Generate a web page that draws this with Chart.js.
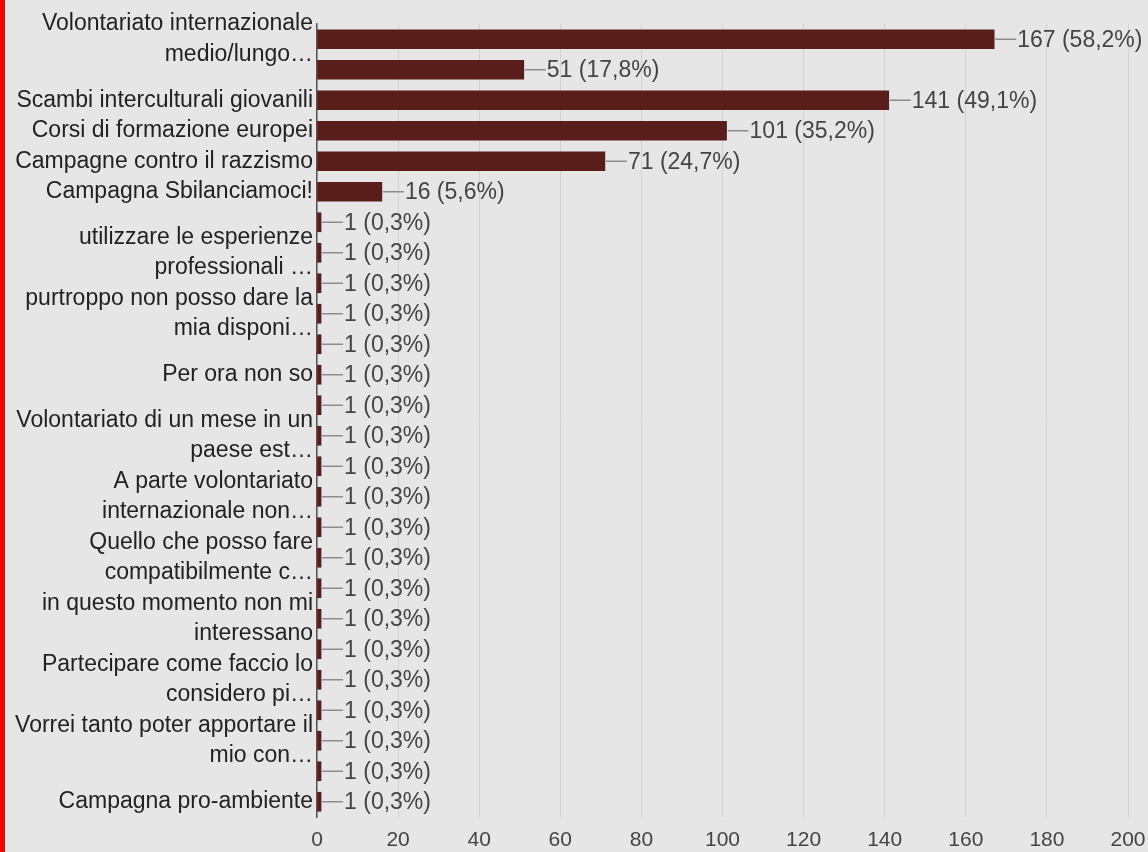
<!DOCTYPE html>
<html lang="it">
  <head>
    <meta charset="UTF-8" />
    <title>Disponibilità attività</title>
    <style>
      html, body { margin: 0; padding: 0; background: #e6e6e6; }
      .chart { position: relative; width: 1148px; height: 852px; }
      .edge { position: absolute; left: 0; top: 0; width: 5px; height: 852px; background: #ff0000; }
    </style>
  </head>
  <body>
    <script src="https://cdn.jsdelivr.net/npm/chart.js"></script>
    <div class="chart">
      <canvas id="chart" width="1148" height="852"></canvas>
      <div class="edge"></div>
    </div>

    <script>
      // categorie (etichette troncate come nel grafico di Google Moduli)
      const categories = [
        ["Volontariato internazionale", "medio/lungo…"],
        "",
        "Scambi interculturali giovanili",
        "Corsi di formazione europei",
        "Campagne contro il razzismo",
        "Campagna Sbilanciamoci!",
        "",
        ["utilizzare le esperienze", "professionali …"],
        "",
        ["purtroppo non posso dare la", "mia disponi…"],
        "",
        "Per ora non so",
        "",
        ["Volontariato di un mese in un", "paese est…"],
        "",
        ["A parte volontariato", "internazionale non…"],
        "",
        ["Quello che posso fare", "compatibilmente c…"],
        "",
        ["in questo momento non mi", "interessano"],
        "",
        ["Partecipare come faccio lo", "considero pi…"],
        "",
        ["Vorrei tanto poter apportare il", "mio con…"],
        "",
        "Campagna pro-ambiente",
      ];
      const counts = [167, 51, 141, 101, 71, 16, 1, 1, 1, 1, 1, 1, 1, 1, 1, 1, 1, 1, 1, 1, 1, 1, 1, 1, 1, 1];
      const percents = ["58,2", "17,8", "49,1", "35,2", "24,7", "5,6", "0,3", "0,3", "0,3", "0,3", "0,3", "0,3", "0,3",
        "0,3", "0,3", "0,3", "0,3", "0,3", "0,3", "0,3", "0,3", "0,3", "0,3", "0,3", "0,3", "0,3"];
      const xTicks = [0, 20, 40, 60, 80, 100, 120, 140, 160, 180, 200];

      const FONT = "'Liberation Sans', Arial, sans-serif";

      // etichetta "—167 (58,2%)" a destra di ogni barra
      const valueLabels = {
        id: "valueLabels",
        afterDatasetsDraw(chart) {
          const { ctx } = chart;
          const meta = chart.getDatasetMeta(0);
          ctx.save();
          ctx.font = "23px " + FONT;
          ctx.textBaseline = "middle";
          ctx.textAlign = "left";
          meta.data.forEach((bar, i) => {
            const x = bar.x;
            const y = bar.y;
            ctx.strokeStyle = "#8c8c8c";
            ctx.lineWidth = 1.5;
            ctx.beginPath();
            ctx.moveTo(x + 1, y);
            ctx.lineTo(x + 22, y);
            ctx.stroke();
            ctx.fillStyle = "#444444";
            ctx.fillText(`${counts[i]} (${percents[i]}%)`, x + 23, y + 1);
          });
          ctx.restore();
        },
      };

      new Chart(document.getElementById("chart"), {
        type: "bar",
        data: {
          labels: categories,
          datasets: [
            {
              data: counts,
              backgroundColor: "#591e1a",
              borderWidth: 0,
              barThickness: 19,
            },
          ],
        },
        options: {
          indexAxis: "y",
          responsive: false,
          animation: false,
          devicePixelRatio: 1,
          layout: { padding: { top: 24, right: 20, bottom: 0, left: 0 } },
          plugins: {
            legend: { display: false },
            tooltip: { enabled: false },
          },
          scales: {
            x: {
              min: 0,
              max: 200,
              afterBuildTicks: (scale) => {
                scale.ticks = xTicks.map((v) => ({ value: v }));
              },
              afterFit: (scale) => {
                scale.height = 35;
                scale.paddingLeft = 0;
                scale.paddingRight = 0;
              },
              grid: { color: "#d2d2d2", lineWidth: 1, drawTicks: false },
              border: { display: false },
              ticks: {
                color: "#444444",
                padding: 11,
                font: { family: FONT, size: 21 },
              },
            },
            y: {
              grid: { display: false, drawTicks: false },
              border: { display: true, color: "#555555", width: 1.5 },
              afterFit: (scale) => {
                scale.width = 317;
                scale.paddingTop = 0;
                scale.paddingBottom = 0;
              },
              ticks: {
                autoSkip: false,
                color: "#222222",
                padding: 4,
                font: { family: FONT, size: 23, lineHeight: 1.326 },
              },
            },
          },
        },
        plugins: [valueLabels],
      });
    </script>
  </body>
</html>
